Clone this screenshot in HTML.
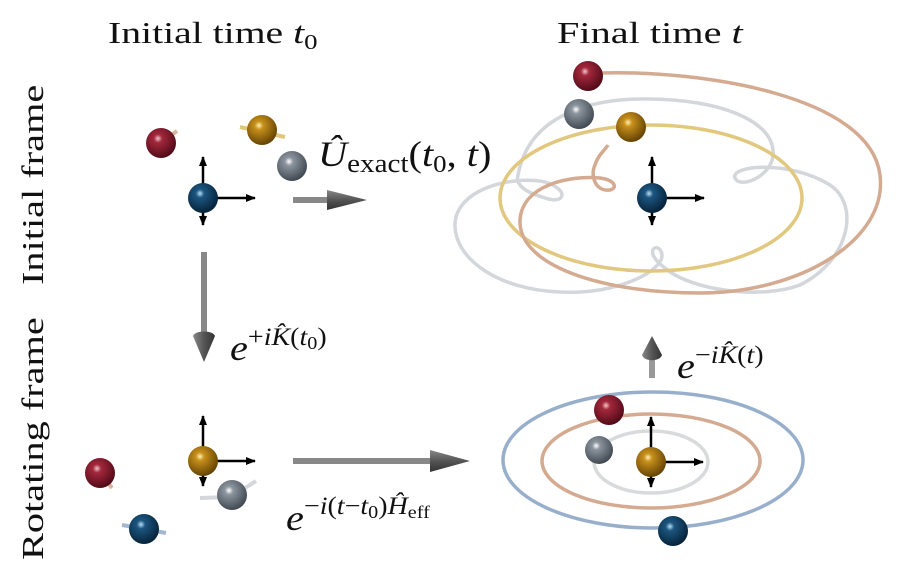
<!DOCTYPE html>
<html><head><meta charset="utf-8"><style>
html,body{margin:0;padding:0;background:#fff;}
svg{display:block;}
text{font-family:"Liberation Serif",serif;fill:#111;}
</style></head><body>
<svg width="919" height="576" viewBox="0 0 919 576" xmlns="http://www.w3.org/2000/svg">
<defs>
<radialGradient id="gr" cx="0.4" cy="0.35" r="0.7"><stop offset="0" stop-color="#f3c5cc"/><stop offset="0.2" stop-color="#a3283c"/><stop offset="1" stop-color="#4a0714"/></radialGradient>
<radialGradient id="gb" cx="0.4" cy="0.35" r="0.7"><stop offset="0" stop-color="#b8dff5"/><stop offset="0.2" stop-color="#1c5680"/><stop offset="1" stop-color="#041e33"/></radialGradient>
<radialGradient id="gy" cx="0.4" cy="0.35" r="0.7"><stop offset="0" stop-color="#fff0b0"/><stop offset="0.2" stop-color="#c8901c"/><stop offset="1" stop-color="#5c3c02"/></radialGradient>
<radialGradient id="gg" cx="0.4" cy="0.35" r="0.7"><stop offset="0" stop-color="#ffffff"/><stop offset="0.2" stop-color="#8c959e"/><stop offset="1" stop-color="#3a434c"/></radialGradient>
<marker id="ah" markerWidth="10" markerHeight="8" refX="9" refY="4" orient="auto" markerUnits="userSpaceOnUse"><path d="M0,0 L10,4 L0,8 Z" fill="#000"/></marker>
<linearGradient id="gh" x1="0" y1="0" x2="0" y2="1"><stop offset="0" stop-color="#888"/><stop offset="0.5" stop-color="#555"/><stop offset="1" stop-color="#333"/></linearGradient>
<linearGradient id="gv" x1="0" y1="0" x2="1" y2="0"><stop offset="0" stop-color="#888"/><stop offset="0.5" stop-color="#555"/><stop offset="1" stop-color="#333"/></linearGradient>
</defs>

<!-- titles -->
<text transform="translate(108,43) scale(1.28,1)" font-size="31">Initial time <tspan font-style="italic">t</tspan><tspan font-size="21" dy="6">0</tspan></text>
<text transform="translate(557,43) scale(1.3,1)" font-size="31">Final time <tspan font-style="italic">t</tspan></text>
<text transform="translate(43,285) rotate(-90) scale(1.3,1)" font-size="31">Initial frame</text>
<text transform="translate(43,560) rotate(-90) scale(1.3,1)" font-size="31">Rotating frame</text>

<!-- top-left -->
<line x1="150" y1="152" x2="155" y2="148" stroke="#d9b49c" stroke-width="4"/>
<line x1="170" y1="136" x2="177" y2="131" stroke="#d9b49c" stroke-width="4"/>
<circle cx="161" cy="143" r="15" fill="url(#gr)"/>
<line x1="240" y1="127" x2="285" y2="137" stroke="#e0c878" stroke-width="4"/>
<circle cx="262" cy="130" r="15" fill="url(#gy)"/>
<line x1="284" y1="172" x2="289" y2="169" stroke="#d0d4d8" stroke-width="4"/>
<circle cx="292" cy="166" r="15" fill="url(#gg)"/>
<line x1="203" y1="198" x2="203" y2="157" stroke="#000" stroke-width="2.5" marker-end="url(#ah)"/>
<line x1="203" y1="198" x2="255" y2="198" stroke="#000" stroke-width="2.5" marker-end="url(#ah)"/>
<line x1="203" y1="198" x2="203" y2="225" stroke="#000" stroke-width="2.5" marker-end="url(#ah)"/>
<circle cx="203" cy="198" r="15" fill="url(#gb)"/>

<!-- arrow top -->
<rect x="293" y="197" width="40" height="6" fill="#888"/>
<path d="M327,190 L367,200 L327,210 Z" fill="url(#gh)"/>
<text transform="translate(318,166) scale(1.12,1)" font-size="36" font-style="italic">Û<tspan font-style="normal" font-size="26" dy="6">exact</tspan><tspan font-style="normal" dy="-6">(</tspan>t<tspan font-style="normal" font-size="24" dy="6">0</tspan><tspan font-style="normal" dy="-6">, </tspan>t<tspan font-style="normal">)</tspan></text>

<!-- top-right orbits -->
<path d="M518,175 C530,110 600,98 650,99 C720,100 770,120 773,150 C776,175 740,190 735,178 C730,165 790,160 830,185 C860,205 850,260 800,285 C760,300 690,290 665,268 C640,250 660,240 662,255 C663,270 620,295 560,292 C500,290 455,260 455,225 C455,190 510,175 545,182 C570,190 565,205 545,198 C525,192 515,185 518,175 Z" fill="none" stroke="#d3d6da" stroke-width="3.5"/>
<ellipse cx="651" cy="198" rx="151" ry="73" fill="none" stroke="#e2c87e" stroke-width="3.5"/>
<path d="M600,73 C700,70 870,95 880,175 C888,240 800,293 700,293 C600,293 518,265 520,220 C522,185 570,175 600,178 C615,180 618,188 610,190 C595,192 590,175 595,165 C598,155 605,150 608,145" fill="none" stroke="#d4aa90" stroke-width="3.5"/>
<circle cx="588" cy="76" r="15" fill="url(#gr)"/>
<circle cx="579" cy="114" r="15" fill="url(#gg)"/>
<circle cx="631" cy="127" r="15" fill="url(#gy)"/>
<line x1="652" y1="198" x2="652" y2="157" stroke="#000" stroke-width="2.5" marker-end="url(#ah)"/>
<line x1="652" y1="198" x2="704" y2="198" stroke="#000" stroke-width="2.5" marker-end="url(#ah)"/>
<line x1="652" y1="198" x2="652" y2="225" stroke="#000" stroke-width="2.5" marker-end="url(#ah)"/>
<circle cx="652" cy="198" r="15" fill="url(#gb)"/>

<!-- down arrow -->
<rect x="201" y="252" width="6" height="88" fill="#888"/>
<path d="M193,336 C195,330 213,330 215,336 L204,362 Z" fill="url(#gv)"/>
<text transform="translate(230,360) scale(1.12,1)" font-size="36" font-style="italic">e<tspan font-size="25" dy="-15" font-style="normal">+</tspan><tspan font-size="25">iK̂</tspan><tspan font-size="25" font-style="normal">(</tspan><tspan font-size="25">t</tspan><tspan font-size="18" font-style="normal" dy="4">0</tspan><tspan font-size="25" font-style="normal" dy="-4">)</tspan></text>

<!-- up arrow -->
<rect x="649" y="350" width="6" height="28" fill="#999"/>
<path d="M642,355 C644,362 660,362 662,355 L652,336 Z" fill="url(#gv)"/>
<text transform="translate(677,378) scale(1.12,1)" font-size="36" font-style="italic">e<tspan font-size="25" dy="-15" font-style="normal">−</tspan><tspan font-size="25">iK̂</tspan><tspan font-size="25" font-style="normal">(</tspan><tspan font-size="25">t</tspan><tspan font-size="25" font-style="normal">)</tspan></text>

<!-- bottom-left -->
<line x1="106" y1="480" x2="112" y2="488" stroke="#d9b49c" stroke-width="4"/>
<circle cx="100" cy="473" r="15" fill="url(#gr)"/>
<line x1="122" y1="525" x2="166" y2="533" stroke="#a4b8d0" stroke-width="4"/>
<circle cx="144" cy="529" r="15" fill="url(#gb)"/>
<line x1="200" y1="498" x2="230" y2="497" stroke="#d3d6da" stroke-width="4"/>
<line x1="245" y1="488" x2="256" y2="481" stroke="#d3d6da" stroke-width="4"/>
<circle cx="232" cy="495" r="15" fill="url(#gg)"/>
<line x1="203" y1="461" x2="203" y2="416" stroke="#000" stroke-width="2.5" marker-end="url(#ah)"/>
<line x1="203" y1="461" x2="255" y2="461" stroke="#000" stroke-width="2.5" marker-end="url(#ah)"/>
<line x1="203" y1="461" x2="203" y2="486" stroke="#000" stroke-width="2.5" marker-end="url(#ah)"/>
<circle cx="203" cy="461" r="15" fill="url(#gy)"/>

<rect x="293" y="458" width="140" height="6" fill="#888"/>
<path d="M430,450 L470,461 L430,472 Z" fill="url(#gh)"/>
<text transform="translate(286,530) scale(1.12,1)" font-size="36" font-style="italic">e<tspan font-size="25" dy="-16" font-style="normal">−</tspan><tspan font-size="25">i</tspan><tspan font-size="25" font-style="normal">(</tspan><tspan font-size="25">t</tspan><tspan font-size="25" font-style="normal">−</tspan><tspan font-size="25">t</tspan><tspan font-size="18" font-style="normal" dy="4">0</tspan><tspan font-size="25" font-style="normal" dy="-4">)</tspan><tspan font-size="25">Ĥ</tspan><tspan font-size="18" font-style="normal" dy="4">eff</tspan></text>

<!-- bottom-right -->
<ellipse cx="653" cy="460" rx="150" ry="68" fill="none" stroke="#98afcc" stroke-width="3.5"/>
<ellipse cx="651" cy="461" rx="109" ry="47" fill="none" stroke="#d4aa90" stroke-width="3.5"/>
<ellipse cx="651" cy="462" rx="57" ry="31" fill="none" stroke="#d8dadc" stroke-width="3.5"/>
<circle cx="609" cy="410" r="15" fill="url(#gr)"/>
<circle cx="599" cy="450" r="14" fill="url(#gg)"/>
<line x1="651" y1="462" x2="651" y2="417" stroke="#000" stroke-width="2.5" marker-end="url(#ah)"/>
<line x1="651" y1="462" x2="703" y2="462" stroke="#000" stroke-width="2.5" marker-end="url(#ah)"/>
<line x1="651" y1="462" x2="651" y2="487" stroke="#000" stroke-width="2.5" marker-end="url(#ah)"/>
<circle cx="651" cy="462" r="15" fill="url(#gy)"/>
<circle cx="673" cy="531" r="15" fill="url(#gb)"/>
</svg>
</body></html>
